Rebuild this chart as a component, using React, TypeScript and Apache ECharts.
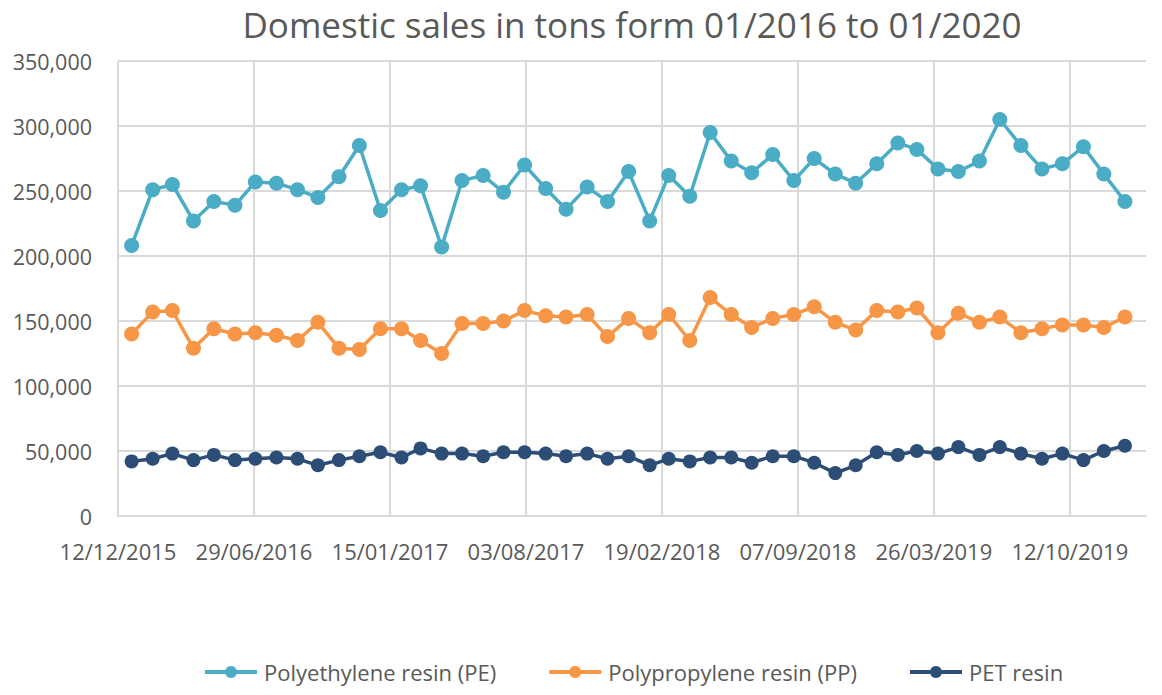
import React, { useEffect, useRef } from "react";
import * as echarts from "echarts";

const titleText = "Domestic sales in tons form 01/2016 to 01/2020";

const months = [
  "2016-01", "2016-02", "2016-03", "2016-04", "2016-05", "2016-06", "2016-07", "2016-08", "2016-09", "2016-10", "2016-11", "2016-12",
  "2017-01", "2017-02", "2017-03", "2017-04", "2017-05", "2017-06", "2017-07", "2017-08", "2017-09", "2017-10", "2017-11", "2017-12",
  "2018-01", "2018-02", "2018-03", "2018-04", "2018-05", "2018-06", "2018-07", "2018-08", "2018-09", "2018-10", "2018-11", "2018-12",
  "2019-01", "2019-02", "2019-03", "2019-04", "2019-05", "2019-06", "2019-07", "2019-08", "2019-09", "2019-10", "2019-11", "2019-12",
  "2020-01",
];

const peValues = [
  208, 251, 255, 227, 242, 239, 257, 256, 251, 245, 261, 285,
  235, 251, 254, 207, 258, 262, 249, 270, 252, 236, 253, 242,
  265, 227, 262, 246, 295, 273, 264, 278, 258, 275, 263, 256,
  271, 287, 282, 267, 265, 273, 305, 285, 267, 271, 284, 263,
  242,
];

const ppValues = [
  140, 157, 158, 129, 144, 140, 141, 139, 135, 149, 129, 128,
  144, 144, 135, 125, 148, 148, 150, 158, 154, 153, 155, 138,
  152, 141, 155, 135, 168, 155, 145, 152, 155, 161, 149, 143,
  158, 157, 160, 141, 156, 149, 153, 141, 144, 147, 147, 145,
  153,
];

const petValues = [
  42, 44, 48, 43, 47, 43, 44, 45, 44, 39, 43, 46,
  49, 45, 52, 48, 48, 46, 49, 49, 48, 46, 48, 44,
  46, 39, 44, 42, 45, 45, 41, 46, 46, 41, 33, 39,
  49, 47, 50, 48, 53, 47, 53, 48, 44, 48, 43, 50,
  54,
];

const xTickLabels = [
  "12/12/2015", "29/06/2016", "15/01/2017", "03/08/2017",
  "19/02/2018", "07/09/2018", "26/03/2019", "12/10/2019",
];

const seriesNames = ["Polyethylene resin (PE)", "Polypropylene resin (PP)", "PET resin"];
const seriesColors = ["#4BACC6", "#F79646", "#2C4D75"];

const DAY = 86400000;
const axisOrigin = Date.UTC(2015, 11, 12);
const axisEnd = Date.UTC(2020, 1, 1);
const tickStepDays = 200;

function dayOffset(ym: string): number {
  const [y, m] = ym.split("-").map(Number);
  return (Date.UTC(y, m - 1, 1) - axisOrigin) / DAY;
}

function toPairs(values: number[]) {
  return values.map((v, i) => [dayOffset(months[i]), v * 1000]);
}

const font = "'Open Sans', 'Noto Sans', sans-serif";
const textColor = "#595959";

export default function App() {
  const ref = useRef<HTMLDivElement>(null);

  useEffect(() => {
    if (!ref.current) return;
    const chart = echarts.init(ref.current, undefined, { renderer: "svg" });
    const allValues = [peValues, ppValues, petValues];
    chart.setOption({
      animation: false,
      backgroundColor: "#ffffff",
      textStyle: { fontFamily: font },
      title: {
        text: titleText,
        left: 627,
        textAlign: "center",
        top: 2,
        textStyle: { fontFamily: font, fontSize: 35, fontWeight: "normal", color: textColor },
      },
      legend: {
        top: 661,
        left: 203,
        itemWidth: 52,
        itemHeight: 15,
        itemGap: 51,
        padding: 0,
        textStyle: { fontFamily: font, fontSize: 22, color: textColor, padding: [0, 0, 0, 2] },
        lineStyle: { width: 4 },
        data: seriesNames,
      },
      grid: { left: 118, right: 16, top: 61, bottom: 179, containLabel: false },
      xAxis: {
        type: "value",
        min: 0,
        max: (axisEnd - axisOrigin) / DAY,
        interval: tickStepDays,
        axisLine: { show: true, lineStyle: { color: "#D9D9D9", width: 2 } },
        axisTick: { show: false },
        axisLabel: {
          margin: 24,
          fontFamily: font,
          fontSize: 22,
          color: textColor,
          showMaxLabel: false,
          formatter: (v: number) => {
            const idx = Math.round(v / tickStepDays);
            return v % tickStepDays === 0 && xTickLabels[idx] ? xTickLabels[idx] : "";
          },
        },
        splitLine: { show: true, showMaxLine: false, lineStyle: { color: "#D9D9D9", width: 2 } },
      },
      yAxis: {
        type: "value",
        min: 0,
        max: 350000,
        interval: 50000,
        axisLine: { show: false },
        axisTick: { show: false },
        axisLabel: {
          margin: 26,
          fontFamily: font,
          fontSize: 21.5,
          color: textColor,
          formatter: (v: number) => v.toLocaleString("en-US"),
        },
        splitLine: { show: true, lineStyle: { color: "#D9D9D9", width: 2 } },
      },
      series: seriesNames.map((name, i) => ({
        name,
        type: "line",
        data: toPairs(allValues[i]),
        symbol: "circle",
        symbolSize: i === 2 ? 14 : 15,
        lineStyle: { color: seriesColors[i], width: 3.5 },
        itemStyle: { color: seriesColors[i] },
        emphasis: { disabled: true },
      })),
    });
    return () => chart.dispose();
  }, []);

  return (
    <div
      ref={ref}
      style={{ position: "absolute", left: 0, top: 0, width: 1162, height: 695 }}
    />
  );
}
